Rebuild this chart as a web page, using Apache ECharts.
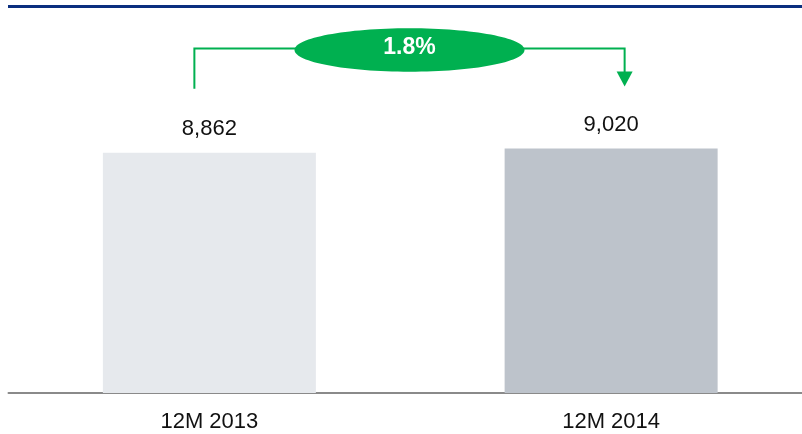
<!DOCTYPE html>
<html>
<head>
<meta charset="utf-8">
<script src="https://cdn.jsdelivr.net/npm/echarts@6/dist/echarts.min.js"></script>
<style>
  html, body { margin: 0; padding: 0; background: #ffffff; overflow: hidden; width: 802px; height: 434px; }
  #chart { width: 812px; height: 434px; }
</style>
</head>
<body>
<div id="chart"></div>
<script>
// Period labels and totals
const categories = ['12M 2013', '12M 2014'];
const values = [8862, 9020];
const barColors = ['#e6e9ed', '#bdc3cb'];

const FONT = '"Liberation Sans", Arial, sans-serif';
const GREEN = '#00b050';

const chart = echarts.init(document.getElementById('chart'), null, { renderer: 'canvas' });

// The axis runs slightly past the right edge of the visible area
const option = {
  animation: false,
  backgroundColor: '#ffffff',
  grid: { left: 8.5, right: -0.5, top: 0, bottom: 41, containLabel: false },
  xAxis: {
    type: 'category',
    data: categories,
    axisLine: { show: true, lineStyle: { color: '#8a8a8a', width: 2 } },
    axisTick: { show: false },
    axisLabel: { color: '#111111', fontSize: 22, fontFamily: FONT, margin: 18 }
  },
  yAxis: {
    type: 'value',
    min: 0,
    max: 14500,
    show: false,
    splitLine: { show: false }
  },
  series: [{
    type: 'bar',
    barWidth: 213,
    data: values.map((v, i) => ({ value: v, itemStyle: { color: barColors[i] } })),
    label: {
      show: true,
      position: 'top',
      distance: 13,
      color: '#111111',
      fontSize: 22,
      fontFamily: FONT,
      formatter: p => p.value.toLocaleString('en-US')
    }
  }]
};

chart.setOption(option);

// Growth bracket between the two bars
const p1 = chart.convertToPixel({ gridIndex: 0 }, [0, values[0]]);
const p2 = chart.convertToPixel({ gridIndex: 0 }, [1, values[1]]);
const xL = p1[0] - 15;
const xR = p2[0] + 13.5;
const yTop = 48.5;
const yLeftEnd = p1[1] - 64;
const yTip = p2[1] - 62;
const xMid = (xL + xR) / 2;
const growth = ((values[1] / values[0] - 1) * 100).toFixed(1) + '%';

chart.setOption({
  graphic: [
    {
      type: 'rect',
      shape: { x: 8, y: 5, width: 804, height: 3 },
      style: { fill: '#0b2f7f' },
      silent: true
    },
    {
      type: 'polyline',
      shape: { points: [[xL, yLeftEnd], [xL, yTop], [xR, yTop], [xR, yTip - 14]] },
      style: { stroke: GREEN, lineWidth: 2, fill: null },
      silent: true
    },
    {
      type: 'polygon',
      shape: { points: [[xR - 8, yTip - 15], [xR + 8, yTip - 15], [xR, yTip]] },
      style: { fill: GREEN },
      silent: true
    },
    {
      type: 'ellipse',
      shape: { cx: xMid, cy: 50, rx: 115, ry: 21.7 },
      style: { fill: GREEN },
      silent: true
    },
    {
      type: 'text',
      x: xMid,
      y: 48,
      style: {
        text: growth,
        fill: '#ffffff',
        font: 'bold 23px ' + FONT,
        align: 'center',
        verticalAlign: 'middle'
      },
      silent: true
    }
  ]
});
</script>
</body>
</html>
